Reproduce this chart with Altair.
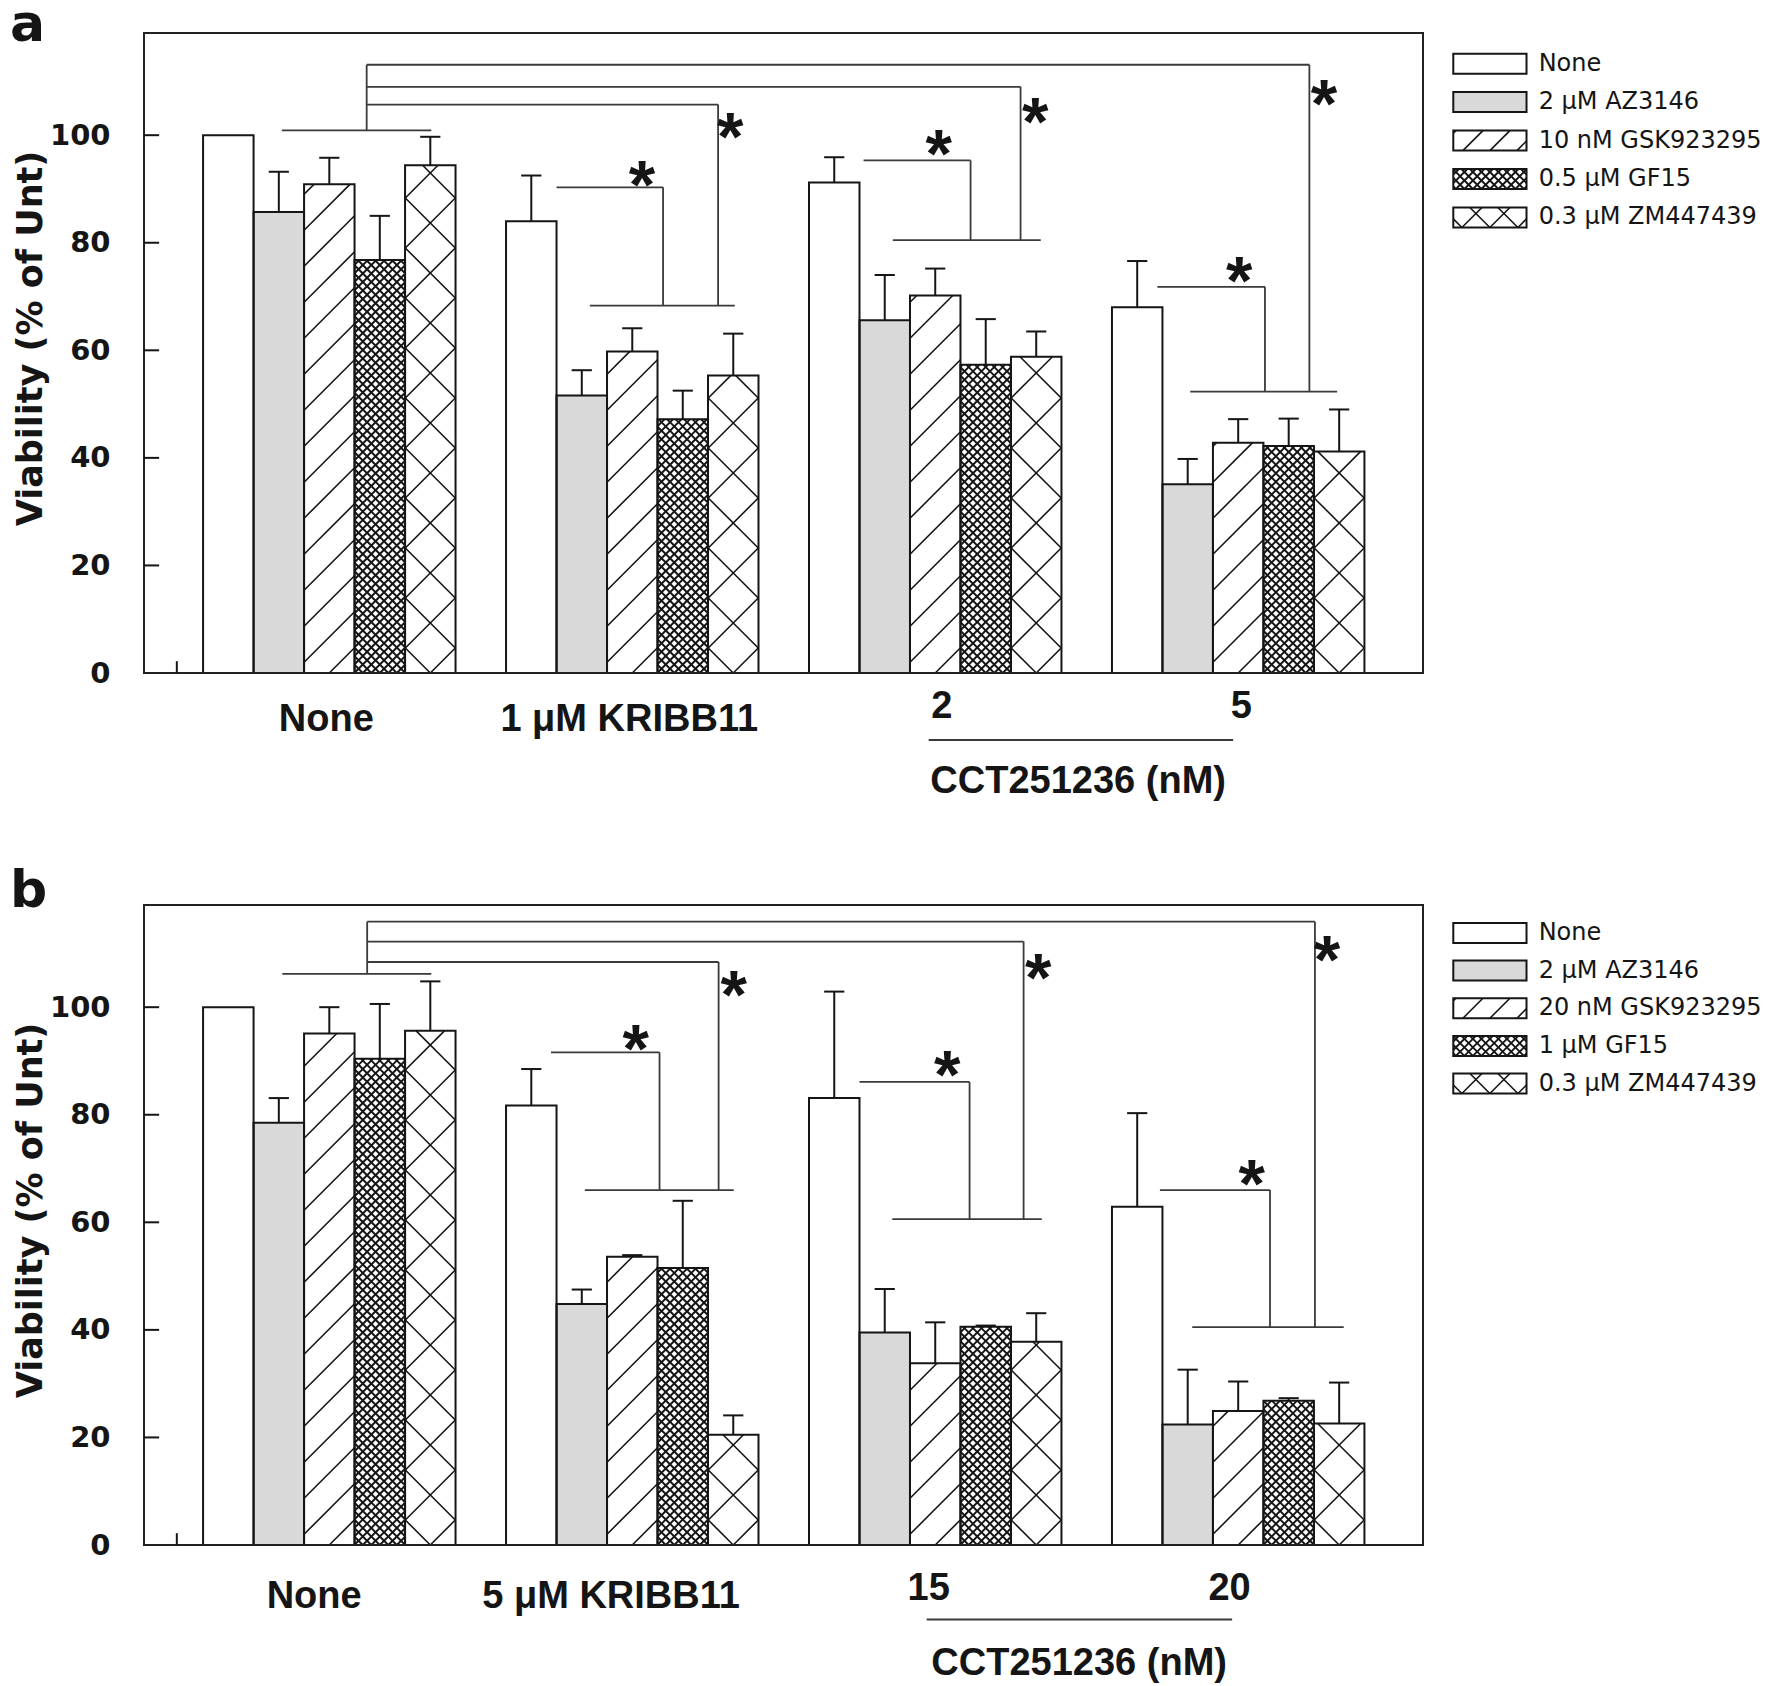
import math
import altair as alt
import pandas as pd

MU = "\u03bc"
# ---------------- data ----------------
series_a = ["None", f"2 {MU}M AZ3146", "10 nM GSK923295", f"0.5 {MU}M GF15", f"0.3 {MU}M ZM447439"]
series_b = ["None", f"2 {MU}M AZ3146", "20 nM GSK923295", f"1 {MU}M GF15", f"0.3 {MU}M ZM447439"]
groups_a = ["None", f"1 {MU}M KRIBB11", "2", "5"]
groups_b = ["None", f"5 {MU}M KRIBB11", "15", "20"]
cct_title = "CCT251236 (nM)"
y_title = "Viability (% of Unt)"
y_ticks = [0, 20, 40, 60, 80, 100]

mean_a_none = [100.0, 85.7, 90.9, 76.8, 94.4]
mean_a_kribb = [84.0, 51.6, 59.8, 47.2, 55.3]
mean_a_cct2 = [91.2, 65.6, 70.2, 57.3, 58.8]
mean_a_cct5 = [68.0, 35.1, 42.8, 42.2, 41.2]
err_a_none = [0.0, 7.5, 4.9, 8.2, 5.3]
err_a_kribb = [8.5, 4.7, 4.3, 5.3, 7.8]
err_a_cct2 = [4.7, 8.4, 5.0, 8.5, 4.7]
err_a_cct5 = [8.6, 4.7, 4.4, 5.1, 7.8]

mean_b_none = [100.0, 78.5, 95.1, 90.4, 95.6]
mean_b_kribb = [81.7, 44.8, 53.6, 51.5, 20.5]
mean_b_cct15 = [83.1, 39.5, 33.8, 40.6, 37.8]
mean_b_cct20 = [62.9, 22.4, 24.9, 26.8, 22.6]
err_b_none = [0.0, 4.6, 4.9, 10.2, 9.2]
err_b_kribb = [6.8, 2.7, 0.3, 12.5, 3.6]
err_b_cct15 = [19.8, 8.1, 7.6, 0.2, 5.3]
err_b_cct20 = [17.4, 10.2, 5.5, 0.5, 7.6]

# significance annotations (x in bar-width units, y in % units)
sig_a = dict(
    none_line=(2.73, 5.69, 100.9), stem=4.41,
    long=[(105.7, 11.37, 68.3), (109.0, 17.36, 80.5), (113.1, 23.08, 52.3)],
    lower=[(8.83, 11.70), (14.83, 17.76), (20.72, 23.63)],
    small=[(8.17, 10.28, 90.3), (14.25, 16.37, 95.3), (20.07, 22.20, 71.8)],
    stars=[(9.86, 92.2), (15.74, 97.9), (21.69, 74.4), (11.61, 101.1), (17.65, 104.0), (23.37, 107.2)],
)
sig_b = dict(
    none_line=(2.74, 5.69, 106.2), stem=4.42,
    long=[(108.4, 11.38, 66.0), (112.2, 17.42, 60.6), (115.9, 23.19, 40.5)],
    lower=[(8.73, 11.68), (14.82, 17.78), (20.76, 23.76)],
    small=[(8.06, 10.21, 91.6), (14.17, 16.35, 86.1), (20.12, 22.30, 66.0)],
    stars=[(9.74, 93.8), (15.91, 88.9), (21.94, 68.6), (11.68, 103.8), (17.71, 106.9), (23.43, 110.3)],
)

# ---------------- layout / style ----------------
W, H = 1279, 640
XMAX, YMAX = 25.33, 119.0
PXU, PYU = W / XMAX, H / YMAX
FONT = "Liberation Sans"
WIDE = "DejaVu Sans"
INK = "#151515"
LINE = "#3a3a3a"
patterns = ["white", "gray", "hatch", "dense", "cross"]
fills = {"white": "#ffffff", "gray": "#d9d9d9", "hatch": "#ffffff", "dense": "#ffffff", "cross": "#ffffff"}
bar_period = {"hatch": 36.0, "dense": 8.5, "cross": 50.0}
leg_period = {"hatch": 27.0, "dense": 8.5, "cross": 28.0}
hatch_width = {"hatch": 1.6, "dense": 1.9, "cross": 1.6}


def hatch(x0, x1, y0, y1, kind, P):
    """45-degree line segments filling a rectangle (computed in pixel space)."""
    X0, X1, Y0, Y1 = x0 * PXU, x1 * PXU, y0 * PYU, y1 * PYU
    Xc = (X0 + X1) / 2
    out = []
    dirs = [1] if kind == "hatch" else [1, -1]
    for d in dirs:
        if d == 1:
            base = Y0 - Xc
            kmin = math.ceil((Y0 - X1 - base) / P)
            kmax = math.floor((Y1 - X0 - base) / P)
            for k in range(kmin, kmax + 1):
                c = base + k * P
                xa, xb = max(X0, Y0 - c), min(X1, Y1 - c)
                if xb - xa > 0.8:
                    out.append((xa, xa + c, xb, xb + c))
        else:
            base = Y0 + Xc
            kmin = math.ceil((Y0 + X0 - base) / P)
            kmax = math.floor((Y1 + X1 - base) / P)
            for k in range(kmin, kmax + 1):
                c = base + k * P
                xa, xb = max(X0, c - Y1), min(X1, c - Y0)
                if xb - xa > 0.8:
                    out.append((xa, c - xa, xb, c - xb))
    return [dict(x=a / PXU, y=b / PYU, x2=c / PXU, y2=e / PYU, sw=hatch_width[kind]) for a, b, c, e in out]


def xq(f):
    return alt.X(f"{f}:Q", scale=alt.Scale(domain=[0, XMAX], nice=False, zero=False), axis=None)


YAXIS = alt.Axis(values=y_ticks, title=y_title, labelFont=WIDE, labelFontSize=29, labelFontWeight="bold",
                 labelColor=INK, labelPadding=34, ticks=False, tickSize=0, domain=False, grid=False,
                 titleFont=WIDE, titleFontSize=35, titleFontWeight="bold", titleColor=INK, titlePadding=1,
                 titleY=305)


def yq(f):
    return alt.Y(f"{f}:Q", scale=alt.Scale(domain=[0, YMAX], nice=False, zero=False), axis=YAXIS)


def panel(letter, means, errs, series, groups, sig, leg_top, leg_step, lab):
    rects, hat, err_rows, seg = [], [], [], []
    for g, (m_row, e_row) in enumerate(zip(means, errs)):
        for i, (m, e) in enumerate(zip(m_row, e_row)):
            x0 = 1.17 + 6 * g + i
            kind = patterns[i]
            rects.append(dict(x=x0, x2=x0 + 1, y=0, y2=m, fill=fills[kind]))
            if kind in bar_period:
                hat += hatch(x0, x0 + 1, 0, m, kind, bar_period[kind])
            if e > 0:
                xc = x0 + 0.5
                err_rows.append(dict(x=xc, x2=xc, y=m, y2=m + e))
                err_rows.append(dict(x=xc - 0.2, x2=xc + 0.2, y=m + e, y2=m + e))
    # legend swatches
    leg_text = []
    lx0, lx1 = 25.93, 27.38
    for k, name in enumerate(series):
        yc = leg_top - leg_step * k
        kind = patterns[k]
        rects.append(dict(x=lx0, x2=lx1, y=yc - 1.86, y2=yc + 1.86, fill=fills[kind]))
        if kind in leg_period:
            hat += hatch(lx0, lx1, yc - 1.86, yc + 1.86, kind, leg_period[kind])
        leg_text.append(dict(x=27.62, y=yc, t=name))
    # significance brackets
    x0, x1, yl = sig["none_line"]
    seg.append(dict(x=x0, x2=x1, y=yl, y2=yl))
    top = max(t[0] for t in sig["long"])
    seg.append(dict(x=sig["stem"], x2=sig["stem"], y=yl, y2=top))
    for (ylev, xe, ybot), (lo0, lo1), (sx0, sx1, sy) in zip(sig["long"], sig["lower"], sig["small"]):
        seg.append(dict(x=sig["stem"], x2=xe, y=ylev, y2=ylev))
        seg.append(dict(x=xe, x2=xe, y=ylev, y2=ybot))
        seg.append(dict(x=lo0, x2=lo1, y=ybot, y2=ybot))
        seg.append(dict(x=sx0, x2=sx1, y=sy, y2=sy))
        seg.append(dict(x=sx1, x2=sx1, y=sy, y2=ybot))
    stars = [dict(x=a, y=b, t="*") for a, b in sig["stars"]]
    # inner axis ticks
    ticks = [dict(x=0, x2=0.3, y=v, y2=v) for v in y_ticks[1:]] + [dict(x=0.65, x2=0.65, y=0, y2=2.2)]
    frame = [dict(x=0, x2=XMAX, y=0, y2=YMAX)]
    # category labels below the axis
    labs = []
    for g, name in enumerate(groups):
        labs.append(dict(x=1.17 + 6 * g + 2.5 + lab["dx"][g], y=-lab["base"][g] / PYU, t=name))
    labs.append(dict(x=lab["cct_x"], y=-lab["cct_base"] / PYU, t=cct_title))
    cct_line = [dict(x=lab["line"][0], x2=lab["line"][1], y=-lab["line_y"] / PYU, y2=-lab["line_y"] / PYU)]

    R = pd.DataFrame(rects)
    fill_l = alt.Chart(R).mark_rect(strokeWidth=0).encode(
        x=xq("x"), x2="x2:Q", y=yq("y"), y2="y2:Q", fill=alt.Fill("fill:N", scale=None))
    hatch_l = alt.Chart(pd.DataFrame(hat)).mark_rule(color=INK).encode(
        x=xq("x"), x2="x2:Q", y=yq("y"), y2="y2:Q", strokeWidth=alt.StrokeWidth("sw:Q", scale=None))
    outline_l = alt.Chart(R).mark_rect(fill="transparent", stroke=INK, strokeWidth=2).encode(
        x=xq("x"), x2="x2:Q", y=yq("y"), y2="y2:Q")
    frame_l = alt.Chart(pd.DataFrame(frame)).mark_rect(fill="transparent", stroke="#222222", strokeWidth=2).encode(
        x=xq("x"), x2="x2:Q", y=yq("y"), y2="y2:Q")
    err_l = alt.Chart(pd.DataFrame(err_rows)).mark_rule(color=INK, strokeWidth=2).encode(
        x=xq("x"), x2="x2:Q", y=yq("y"), y2="y2:Q")
    seg_l = alt.Chart(pd.DataFrame(seg + cct_line)).mark_rule(color=LINE, strokeWidth=1.8).encode(
        x=xq("x"), x2="x2:Q", y=yq("y"), y2="y2:Q")
    tick_l = alt.Chart(pd.DataFrame(ticks)).mark_rule(color=INK, strokeWidth=2).encode(
        x=xq("x"), x2="x2:Q", y=yq("y"), y2="y2:Q")
    star_l = alt.Chart(pd.DataFrame(stars)).mark_text(
        font=FONT, fontSize=68, fontWeight="bold", color=INK, align="center", baseline="alphabetic", dy=31
    ).encode(x=xq("x"), y=yq("y"), text="t:N")
    leg_l = alt.Chart(pd.DataFrame(leg_text)).mark_text(
        font=WIDE, fontSize=24, color=INK, align="left", baseline="middle"
    ).encode(x=xq("x"), y=yq("y"), text="t:N")
    lab_l = alt.Chart(pd.DataFrame(labs)).mark_text(
        font=FONT, fontSize=38, fontWeight="bold", color=INK, align="center", baseline="alphabetic"
    ).encode(x=xq("x"), y=yq("y"), text="t:N")
    letter_l = alt.Chart(pd.DataFrame([dict(t=letter)])).mark_text(
        font=WIDE, fontSize=52, fontWeight="bold", color=INK, align="left", baseline="alphabetic"
    ).encode(x=alt.value(-134), y=alt.value(lab["letter_y"]), text="t:N")
    return alt.layer(fill_l, hatch_l, outline_l, frame_l, err_l, seg_l, tick_l, star_l, leg_l, lab_l,
                     letter_l).properties(width=W, height=H)


lab_a = dict(dx=[-0.06, -0.06, 0.13, 0.06], base=[58, 58, 45, 45], cct_x=18.5, cct_base=120,
             line=(15.54, 21.57), line_y=67, letter_y=8)
lab_b = dict(dx=[-0.30, -0.42, -0.13, -0.17], base=[63, 63, 55, 55], cct_x=18.52, cct_base=130,
             line=(15.50, 21.55), line_y=74.5, letter_y=2)

pa = panel("a", [mean_a_none, mean_a_kribb, mean_a_cct2, mean_a_cct5],
           [err_a_none, err_a_kribb, err_a_cct2, err_a_cct5], series_a, groups_a, sig_a, 113.3, 7.15, lab_a)
pb = panel("b", [mean_b_none, mean_b_kribb, mean_b_cct15, mean_b_cct20],
           [err_b_none, err_b_kribb, err_b_cct15, err_b_cct20], series_b, groups_b, sig_b, 113.8, 7.0, lab_b)

chart = alt.vconcat(pa, pb, spacing=232, bounds="flush").properties(
    padding={"top": -10, "left": 1, "right": 0, "bottom": 0}
).configure_view(stroke="transparent").configure(background="white")

chart.save("out.html", embed_options={"renderer": "svg", "actions": False})
